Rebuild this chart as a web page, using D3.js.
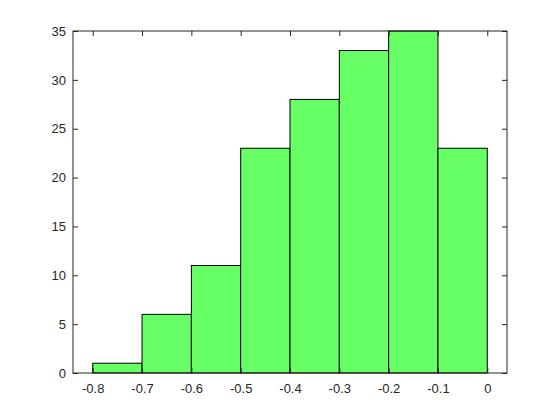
<!DOCTYPE html>
<html lang="en">
<head>
<meta charset="UTF-8">
<title>Histogram</title>
<script src="https://d3js.org/d3.v7.min.js"></script>
<style>
    body { margin: 0; background: #fff; }
    svg { display: block; }
</style>
</head>
<body>
<script>
    // bin edges and counts
    const binEdges = [-0.8, -0.7, -0.6, -0.5, -0.4, -0.3, -0.2, -0.1, 0];
    const counts = [1, 6, 11, 23, 28, 33, 35, 23];
    const xTicks = [-0.8, -0.7, -0.6, -0.5, -0.4, -0.3, -0.2, -0.1, 0];
    const yTicks = [0, 5, 10, 15, 20, 25, 30, 35];

    const width = 560, height = 420;
    const plotLeft = 73, plotRight = 507, plotTop = 31, plotBottom = 373;

    const bins = counts.map((c, i) => ({ x0: binEdges[i], x1: binEdges[i + 1], count: c }));

    const x = d3.scaleLinear().domain([-0.84, 0.04]).range([plotLeft, plotRight]);
    const y = d3.scaleLinear().domain([0, 35]).range([plotBottom, plotTop]);

    const svg = d3.select("body").append("svg")
        .attr("width", width)
        .attr("height", height);

    svg.append("g")
        .selectAll("rect")
        .data(bins)
        .enter().append("rect")
        .attr("x", d => x(d.x0))
        .attr("y", d => y(d.count))
        .attr("width", d => x(d.x1) - x(d.x0))
        .attr("height", d => y(0) - y(d.count))
        .attr("fill", "#66ff66")
        .attr("stroke", "#000")
        .attr("stroke-width", 1);

    const fmt = d => d === 0 ? "0" : d3.format(".1f")(d).replace("−", "-");

    function styleAxis(g) {
        g.attr("font-size", 13).attr("font-family", "'Liberation Sans', Arial, sans-serif");
        g.select(".domain").remove();
        g.selectAll(".tick line").attr("stroke", "#262626");
        g.selectAll(".tick text").attr("fill", "#262626");
    }

    svg.append("g")
        .attr("transform", `translate(0,${plotBottom})`)
        .call(d3.axisBottom(x).tickValues(xTicks).tickFormat(fmt).tickSizeInner(-5).tickSizeOuter(0).tickPadding(11))
        .call(styleAxis);

    svg.append("g")
        .attr("transform", `translate(0,${plotTop})`)
        .call(d3.axisTop(x).tickValues(xTicks).tickFormat("").tickSizeInner(-5).tickSizeOuter(0))
        .call(styleAxis);

    svg.append("g")
        .attr("transform", `translate(${plotLeft},0)`)
        .call(d3.axisLeft(y).tickValues(yTicks).tickSizeInner(-5).tickSizeOuter(0).tickPadding(7))
        .call(styleAxis);

    svg.append("g")
        .attr("transform", `translate(${plotRight},0)`)
        .call(d3.axisRight(y).tickValues(yTicks).tickFormat("").tickSizeInner(-5).tickSizeOuter(0))
        .call(styleAxis);

    // axes box
    svg.append("rect")
        .attr("x", plotLeft)
        .attr("y", plotTop)
        .attr("width", plotRight - plotLeft)
        .attr("height", plotBottom - plotTop)
        .attr("fill", "none")
        .attr("stroke", "#262626")
        .attr("stroke-width", 1);
</script>
</body>
</html>
